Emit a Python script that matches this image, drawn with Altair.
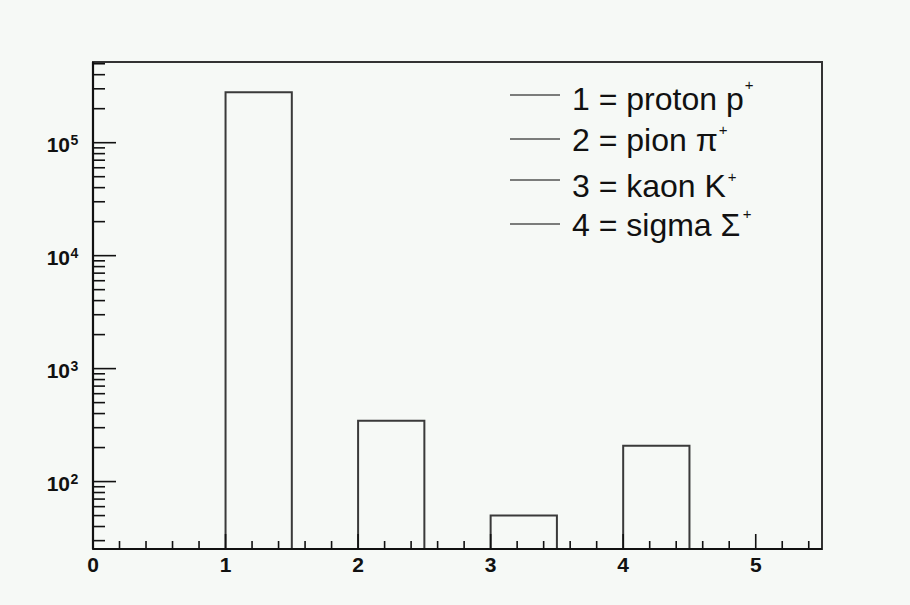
import altair as alt
import pandas as pd

# Histogram contents: bin edges and entries per bin
bin_lo = [1.0, 2.0, 3.0, 4.0]
bin_hi = [1.5, 2.5, 3.5, 4.5]
counts = [279000, 345, 50, 208]

# Legend text (particle species) and its superscript charge
legend_labels = ["1 = proton p", "2 = pion \u03c0", "3 = kaon K", "4 = sigma \u03a3"]
legend_charge = ["+", "+", "+", "+"]

# Axis labels
x_labels = [0, 1, 2, 3, 4, 5]
y_decades = [100, 1000, 10000, 100000]
y_exponents = ["2", "3", "4", "5"]

# Axis ranges
X_MIN, X_MAX = 0.0, 5.5
Y_MIN, Y_MAX = 25.3, 5.18e5

# Plot-area size and placement inside the 910x605 canvas
W, H = 729, 487
LEFT, TOP = 93, 62

FONT = "Liberation Sans"
INK = "#111111"

xs = alt.Scale(domain=[X_MIN, X_MAX], nice=False, zero=False)
ys = alt.Scale(type="log", domain=[Y_MIN, Y_MAX], nice=False)

# Tick marks drawn inward, ROOT style
x_minor = [round(i * 0.2, 1) for i in range(1, 28) if i % 5 != 0]
x_major = [1, 2, 3, 4, 5]
y_minor = [m * 10 ** e for e in range(1, 6) for m in range(2, 10) if Y_MIN <= m * 10 ** e <= Y_MAX]
y_major = y_decades

hist = pd.DataFrame({"lo": bin_lo, "hi": bin_hi, "n": counts})

bars = alt.Chart(hist).mark_rect(fillOpacity=0, stroke="#3a3a3a", strokeWidth=2).encode(
    x=alt.X("lo:Q", scale=xs, axis=None),
    x2="hi:Q",
    y=alt.Y("n:Q", scale=ys, axis=None),
    y2=alt.value(H),
)


def xticks(values, length):
    return alt.Chart(pd.DataFrame({"v": values})).mark_rule(color=INK, strokeWidth=1.6).encode(
        x=alt.X("v:Q", scale=xs, axis=None), y=alt.value(H), y2=alt.value(H - length)
    )


def yticks(values, length):
    return alt.Chart(pd.DataFrame({"v": values})).mark_rule(color=INK, strokeWidth=1.6).encode(
        y=alt.Y("v:Q", scale=ys, axis=None), x=alt.value(0), x2=alt.value(length)
    )


axis_left = alt.Chart(pd.DataFrame({"v": [0]})).mark_rule(color=INK, strokeWidth=2.2).encode(
    x=alt.value(0), y=alt.value(0), y2=alt.value(H)
)
axis_bottom = alt.Chart(pd.DataFrame({"v": [0]})).mark_rule(color=INK, strokeWidth=2.2).encode(
    x=alt.value(0), x2=alt.value(W), y=alt.value(H)
)

x_text = alt.Chart(pd.DataFrame({"v": x_labels})).mark_text(
    font=FONT, fontSize=21, fontWeight="bold", color=INK, baseline="alphabetic", align="center"
).encode(x=alt.X("v:Q", scale=xs, axis=None), y=alt.value(H + 23), text=alt.Text("v:Q", format="d"))

ylab = pd.DataFrame({"v": y_decades, "e": y_exponents})
y_base = alt.Chart(ylab).mark_text(
    font=FONT, fontSize=21, fontWeight="bold", color=INK, baseline="alphabetic", align="right", dy=9
).encode(y=alt.Y("v:Q", scale=ys, axis=None), x=alt.value(-23), text=alt.value("10"))
y_exp = alt.Chart(ylab).mark_text(
    font=FONT, fontSize=14, fontWeight="bold", color=INK, baseline="alphabetic", align="left", dy=2
).encode(y=alt.Y("v:Q", scale=ys, axis=None), x=alt.value(-22.5), text="e:N")

# Legend rows: sample line, label, superscript charge
line_y = [95, 139, 180, 224]
text_base = [110, 151, 197, 236]
plus_x = [749, 723, 732, 747]
plus_y = [90, 135, 182, 219]
legend_layers = []
for i, lab in enumerate(legend_labels):
    row = pd.DataFrame({"t": [lab], "c": [legend_charge[i]]})
    legend_layers.append(
        alt.Chart(row).mark_rule(color="#000000", strokeWidth=1).encode(
            x=alt.value(510 - LEFT), x2=alt.value(560 - LEFT), y=alt.value(line_y[i] - TOP)
        )
    )
    legend_layers.append(
        alt.Chart(row).mark_text(font=FONT, fontSize=32, color=INK, align="left", baseline="alphabetic").encode(
            x=alt.value(572 - LEFT), y=alt.value(text_base[i] - TOP), text="t:N"
        )
    )
    legend_layers.append(
        alt.Chart(row).mark_text(font=FONT, fontSize=15, color=INK, align="center", baseline="alphabetic").encode(
            x=alt.value(plus_x[i] - LEFT), y=alt.value(plus_y[i] - TOP), text="c:N"
        )
    )

chart = alt.layer(
    bars,
    xticks(x_minor, 8),
    xticks(x_major, 15),
    yticks(y_minor, 12),
    yticks(y_major, 23),
    axis_left,
    axis_bottom,
    x_text,
    y_base,
    y_exp,
    *legend_layers,
).properties(
    width=W,
    height=H,
    background="#f6f9f6",
    padding={"left": LEFT, "top": TOP, "right": 910 - LEFT - W, "bottom": 605 - TOP - H},
    autosize=alt.AutoSizeParams(type="none"),
).configure_view(stroke="#333333", strokeWidth=2)

chart.save("out.html", embed_options={"renderer": "svg", "actions": False})
